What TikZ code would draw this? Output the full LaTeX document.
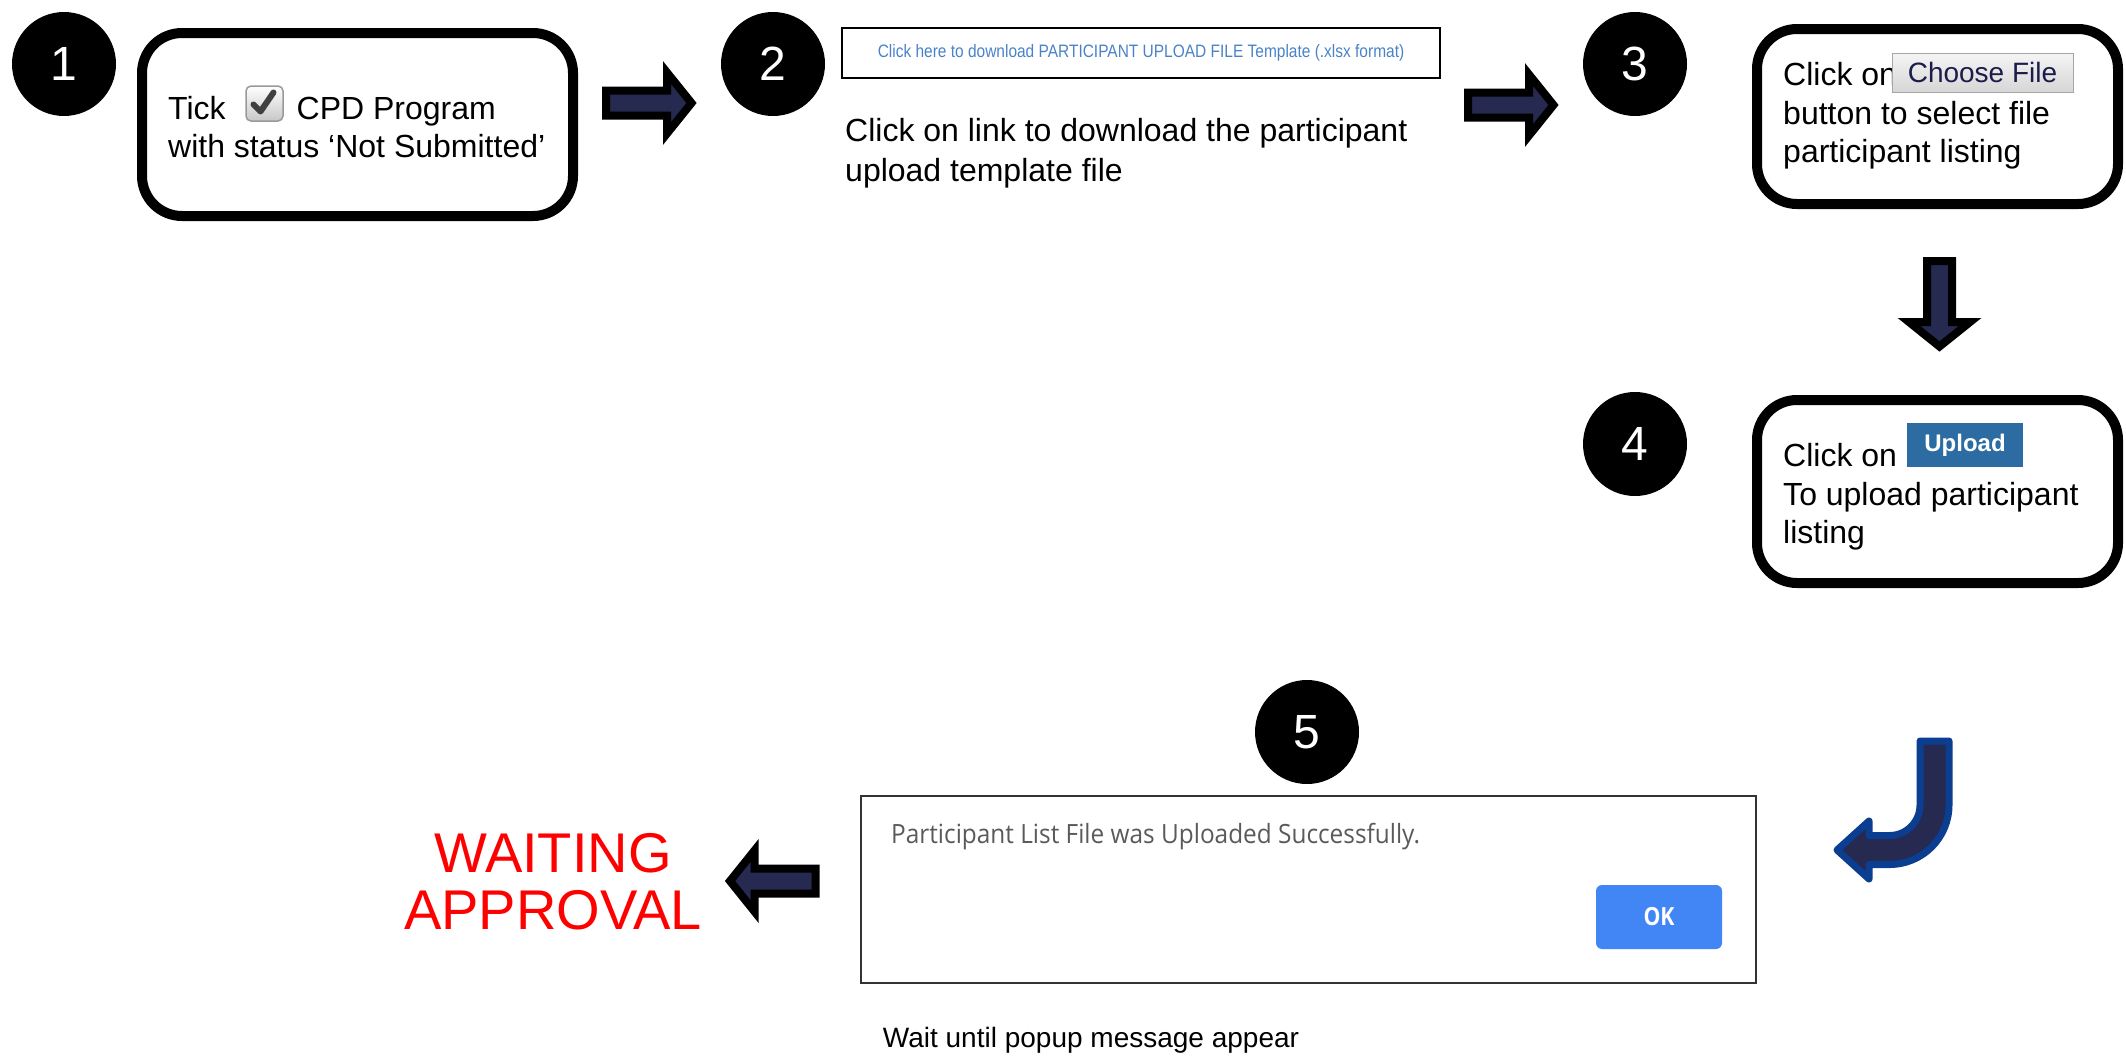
\documentclass[tikz,border=0pt]{standalone}
\usepackage{fontspec}
\setmainfont{Liberation Sans}
\newfontfamily\popfont{Open Sans}
\usetikzlibrary{positioning}
\definecolor{arrownavy}{HTML}{262950}
\definecolor{jblue}{HTML}{0B3D91}
\definecolor{linkblue}{HTML}{4A82C8}
\definecolor{okblue}{HTML}{4285F4}
\definecolor{uploadblue}{HTML}{2D6CA2}
\definecolor{popgray}{HTML}{5A5A5A}
\definecolor{btntext}{HTML}{1C1C4A}
\tikzstyle{stepnum}=[circle, fill=black, minimum size=104pt, inner sep=0pt, text=white, font=\fontsize{48}{48}\selectfont]
\tikzstyle{stepbox}=[draw, line width=10pt, rounded corners=40pt, outer sep=0pt, inner sep=0pt]
\tikzstyle{steptext}=[align=left, inner sep=0pt, anchor=west, font=\fontsize{32}{38.5}\selectfont]
\tikzset{
  blockarrow/.pic={
    \draw[line width=8pt, fill=arrownavy, line join=miter]
      (-43.5,-12.5) -- (17.5,-12.5) -- (17.5,-30.5) -- (42,0) -- (17.5,30.5) -- (17.5,12.5) -- (-43.5,12.5) -- cycle;
  }
}

\begin{document}
\begin{tikzpicture}[x=1pt, y=-1pt]
  \useasboundingbox (0,0) rectangle (2126,1055);

  \node[stepnum] (n1) at (64,64) {1};
  \node[stepnum] (n2) at (773,64) {2};
  \node[stepnum] (n3) at (1635,64) {3};
  \node[stepnum] (n4) at (1635,444) {4};
  \node[stepnum] (n5) at (1307,732) {5};

  \node[stepbox, minimum width=431pt, minimum height=183pt] (box1) at (357.5,124.5) {};
  \node[steptext] (txt1) at (168,127) {Tick\hspace{71pt}CPD Program\\with status ‘Not Submitted’};
  \node[draw=black!40, line width=1.5pt, rounded corners=5pt, top color=white, bottom color=black!22,
        minimum width=37pt, minimum height=35pt, inner sep=0pt] (chk) at (264.5,103.5) {};
  \draw[black!75, line width=6pt, line cap=round, line join=round]
    ([xshift=-11pt,yshift=-1pt]chk.center) -- ([xshift=-4pt,yshift=-8pt]chk.center) -- ([xshift=9pt,yshift=11pt]chk.center);

  \node[draw, line width=2.5pt, minimum width=598pt, minimum height=50pt, inner sep=0pt] (link) at (1141,53) {};
  \node[text=linkblue, inner sep=0pt] (linktxt) at (link.center) {\scalebox{0.86}[1]{\fontsize{18}{20}\selectfont Click here to download PARTICIPANT UPLOAD FILE Template (.xlsx format)}};
  \node[steptext, font=\fontsize{32}{40}\selectfont] (txt2) at (845,153) {Click on link to download the participant\\upload template file};

  \node[stepbox, minimum width=361pt, minimum height=175pt] (box3) at (1937.5,116.5) {};
  \node[steptext] (txt3) at (1783,116) {Click on\\button to select file\\participant listing};
  \node[draw=black!35, line width=1pt, top color=black!4, bottom color=black!16, minimum width=181pt, minimum height=39pt,
        inner sep=0pt, text=btntext, font=\fontsize{28}{28}\selectfont] (choose) at (1982.5,72.5) {Choose File};

  \node[stepbox, minimum width=361pt, minimum height=183pt] (box4) at (1937.5,491.5) {};
  \node[steptext] (txt4) at (1783,497) {Click on\\To upload participant\\listing};
  \node[fill=uploadblue, minimum width=116pt, minimum height=44pt, inner sep=0pt, text=white,
        font=\fontsize{24}{24}\selectfont\bfseries] (upload) at (1965,445) {\raisebox{4pt}{Upload}};

  \node[draw=black!80, line width=2pt, minimum width=895pt, minimum height=187pt, inner sep=0pt] (popup) at (1308.5,889.5) {};
  \node[text=popgray, anchor=west, inner sep=0pt] (poptxt) at (891,837) {\scalebox{0.92}[1]{\popfont\fontsize{26.5}{30}\selectfont Participant List File was Uploaded Successfully.}};
  \node[fill=okblue, rounded corners=6pt, minimum width=126pt, minimum height=64pt, inner sep=0pt, text=white] (ok) at (1659,917) {\scalebox{0.85}[1]{\popfont\bfseries\fontsize{25}{25}\selectfont OK}};
  \node[font=\fontsize{28}{28}\selectfont, inner sep=0pt] (wait) at (1091,1040) {Wait until popup message appear};

  \node[align=center, text=red, inner sep=0pt, font=\fontsize{56}{57}\selectfont] (approval) at (553,882) {WAITING\\APPROVAL};

  \pic at (649.5,103) {blockarrow};
  \pic at (1511.5,105) {blockarrow};
  \pic[rotate=-90] at (1939.5,304.5) {blockarrow};
  \pic[rotate=180] at (772,881) {blockarrow};

  \draw[fill=arrownavy, draw=jblue, line width=7pt, line join=round]
    (1920,741) -- (1949,741) -- (1949,805) arc[start angle=0, end angle=90, radius=59.5]
    -- (1869,864.5) -- (1869,879) -- (1837,850) -- (1869,821) -- (1869,835.5) -- (1889.5,835.5)
    arc[start angle=90, end angle=0, radius=30.5] -- cycle;
\end{tikzpicture}
\end{document}
